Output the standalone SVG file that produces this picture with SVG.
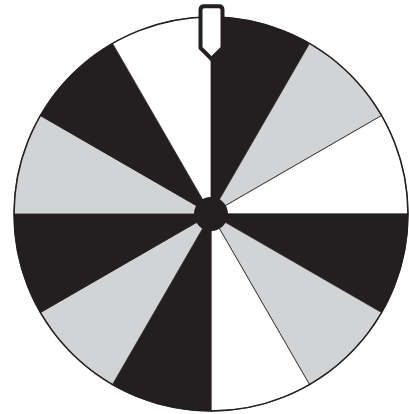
<svg xmlns="http://www.w3.org/2000/svg" width="409" height="414" viewBox="0 0 409 414">
<style>
.k{fill:#231f20}
.g{fill:#d1d3d4}
.w{fill:#ffffff}
.seg{stroke:#231f20;stroke-width:0.8;stroke-linejoin:round}
</style>
<rect width="409" height="414" fill="#ffffff"/>
<g id="wheel">
<path class="seg k" d="M211,214 L211,17 A197,197 0 0 1 309.5,43.4 Z"/>
<path class="seg g" d="M211,214 L309.5,43.4 A197,197 0 0 1 381.6,115.5 Z"/>
<path class="seg w" d="M211,214 L381.6,115.5 A197,197 0 0 1 408,214 Z"/>
<path class="seg k" d="M211,214 L408,214 A197,197 0 0 1 381.6,312.5 Z"/>
<path class="seg g" d="M211,214 L381.6,312.5 A197,197 0 0 1 309.5,384.6 Z"/>
<path class="seg w" d="M211,214 L309.5,384.6 A197,197 0 0 1 211,411 Z"/>
<path class="seg k" d="M211,214 L211,411 A197,197 0 0 1 112.5,384.6 Z"/>
<path class="seg g" d="M211,214 L112.5,384.6 A197,197 0 0 1 40.4,312.5 Z"/>
<path class="seg k" d="M211,214 L40.4,312.5 A197,197 0 0 1 14,214 Z"/>
<path class="seg g" d="M211,214 L14,214 A197,197 0 0 1 40.4,115.5 Z"/>
<path class="seg k" d="M211,214 L40.4,115.5 A197,197 0 0 1 112.5,43.4 Z"/>
<path class="seg w" d="M211,214 L112.5,43.4 A197,197 0 0 1 211,17 Z"/>
<circle cx="211" cy="214" r="197" fill="none" stroke="#231f20" stroke-width="1.5"/>
</g>
<g id="hub">
<circle cx="211" cy="214" r="17" class="k"/>
</g>
<g id="pointer">
<path d="M200.5,48 L200.5,10 Q200.5,6.3 204,6.3 L219,6.3 Q222.5,6.3 222.5,10 L222.5,48 L211.5,59 Z" fill="#ffffff" stroke="#231f20" stroke-width="4" stroke-linejoin="miter"/>
</g>
</svg>
